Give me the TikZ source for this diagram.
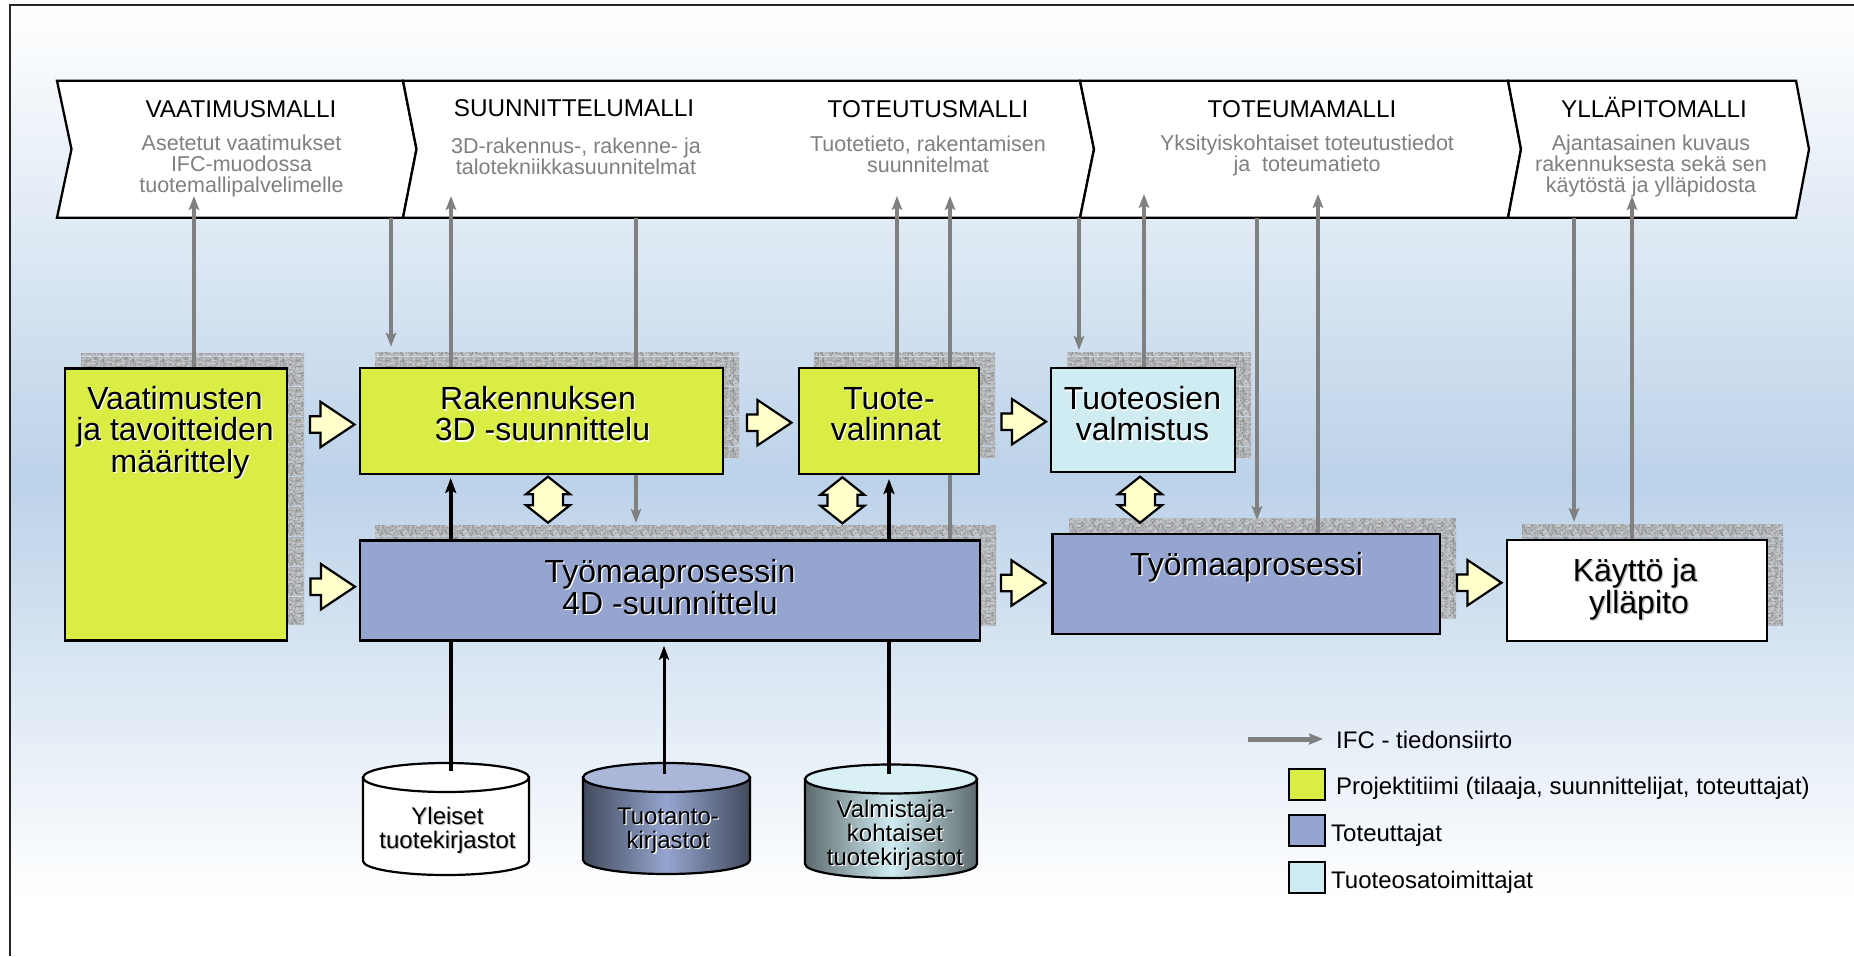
\documentclass[tikz,border=0pt]{standalone}
\usepackage{fontspec}
\setmainfont{Liberation Sans}
\usetikzlibrary{arrows.meta,backgrounds,patterns}
\definecolor{bgblue}{HTML}{BCD2E9}
\definecolor{cgreen}{HTML}{D9ED45}
\definecolor{cblue}{HTML}{95A5CF}
\definecolor{ccyan}{HTML}{CFECF2}
\definecolor{cyell}{HTML}{FFFFCC}
\definecolor{igray}{HTML}{808080}
\pgfmathsetseed{4711}
\pgfdeclarepatterninherentlycolored{noisetex}{\pgfpointorigin}{\pgfpoint{30pt}{30pt}}{\pgfpoint{30pt}{30pt}}{%
  \foreach \i in {0,...,19}{\foreach \j in {0,...,19}{%
    \pgfmathsetmacro{\gv}{0.54+0.27*rnd}%
    \definecolor{nc}{gray}{\gv}%
    \pgfsetfillcolor{nc}%
    \pgfpathrectangle{\pgfpoint{\i*1.5pt}{\j*1.5pt}}{\pgfpoint{1.5pt}{1.5pt}}%
    \pgfusepath{fill}}}%
}
\newcommand\ts[2][white]{\rlap{\raisebox{-1.3pt}{\kern1.3pt\textcolor{#1}{#2}}}#2}
\tikzset{
  boxn/.style={draw=black,line width=2.5pt,inner sep=0pt},
  big/.style={inner sep=0pt,align=center,font=\fontsize{32}{31}\selectfont},
  head/.style={inner sep=0pt,font=\fontsize{24.3}{24}\selectfont},
  sub/.style={inner sep=0pt,align=center,text=igray,font=\fontsize{21.5}{21}\selectfont},
  cyl/.style={inner sep=0pt,align=center,font=\fontsize{24}{24}\selectfont},
  leg/.style={inner sep=0pt,anchor=west,font=\fontsize{24}{24}\selectfont},
  swatch/.style={draw=black,line width=2.3pt,minimum width=36pt,minimum height=31pt,inner sep=0pt},
  band/.style={inner sep=0pt,minimum height=137pt},
  chev/.style={draw=black,fill=white,line width=2.3pt,line join=miter},
  ifc/.style={draw=igray,line width=3.8pt,-{Stealth[length=14pt,width=10.5pt,inset=3pt]}},
  blk/.style={draw=black,line width=4.2pt,-{Stealth[length=15pt,width=11pt,inset=3pt]}},
  blkthin/.style={draw=black,line width=3pt,-{Stealth[length=14pt,width=10pt,inset=3pt]}},
  noise/.style={pattern=noisetex},
  cylb/.style={draw=black,line width=2.2pt},
  blockfill/.style={draw=black,fill=cyell,line width=2.2pt,line join=miter},
  rarrow/.pic={\draw[blockfill] (0,-8.3) -- (10.5,-8.3) -- (10.5,-22.7) -- (44.5,0) -- (10.5,22.7) -- (10.5,8.3) -- (0,8.3) -- cycle;},
  darrow/.pic={\draw[blockfill] (0,-23) -- (22,-5.5) -- (15,-5.5) -- (15,5.5) -- (22,5.5) -- (0,23) -- (-22,5.5) -- (-15,5.5) -- (-15,-5.5) -- (-22,-5.5) -- cycle;}
}
\begin{document}
\begin{tikzpicture}[x=1pt,y=-1pt]
\useasboundingbox (0,0) rectangle (1854,956);
% model bands (named extents)
\node[band,minimum width=346pt] (m1) at (230,149.2) {};
\node[band,minimum width=677pt] (m2) at (741.5,149.2) {};
\node[band,minimum width=428pt] (m4) at (1294,149.2) {};
\node[band,minimum width=288pt] (m5) at (1652,149.2) {};
% boxes
\node[boxn,fill=cgreen,minimum width=222pt,minimum height=272pt] (b1) at (176,504.7) {};
\node[boxn,fill=cgreen,minimum width=363pt,minimum height=106pt] (b2) at (541.5,421) {};
\node[boxn,fill=cgreen,minimum width=180pt,minimum height=106pt] (b3) at (889,421) {};
\node[boxn,fill=ccyan,minimum width=184pt,minimum height=104pt] (b4) at (1143,420) {};
\node[boxn,fill=cblue,minimum width=620pt,minimum height=100pt] (b5) at (670,590.7) {};
\node[boxn,fill=cblue,minimum width=387.5pt,minimum height=100pt] (b6) at (1246.3,584) {};
\node[boxn,fill=white,minimum width=260pt,minimum height=101pt] (b7) at (1637,590.5) {};
% box labels
\node[big] (t1) at (175,433.5) {\ts{Vaatimusten}\\\ts{ja tavoitteiden}\\\hspace*{10pt}\ts{määrittely}};
\node[big] (t2) at (538,414.5) {\ts{Rakennuksen}\\\hspace*{9pt}\ts{3D -suunnittelu}};
\node[big] (t3) at (886,414.5) {\hspace*{6pt}\ts{Tuote-}\\\ts{valinnat}};
\node[big] (t4) at (1142.5,414.5) {\ts{Tuoteosien}\\\ts{valmistus}};
\node[big] (t5) at (670,587.5) {\ts{Työmaaprosessin}\\\ts{4D -suunnittelu}};
\node[big] (t6) at (1246.6,568) {\ts{Työmaaprosessi}};
\node[big] (t7) at (1635,589.5) {\ts[gray!50]{Käyttö ja}\\\hspace*{8pt}\ts[gray!50]{ylläpito}};
% model labels
\node[head] (h1) at (241,108.7) {VAATIMUSMALLI};
\node[head] (h2) at (574,107.7) {SUUNNITTELUMALLI};
\node[head] (h3) at (928,108.7) {TOTEUTUSMALLI};
\node[head] (h4) at (1302,108.7) {TOTEUMAMALLI};
\node[head] (h5) at (1654,107.7) {YLLÄPITOMALLI};
\node[sub] (s1) at (241.5,165.5) {Asetetut vaatimukset\\IFC-muodossa\\tuotemallipalvelimelle};
\node[sub] (s2) at (576,156.5) {3D-rakennus-, rakenne- ja\\talotekniikkasuunnitelmat};
\node[sub] (s3) at (928,154.2) {Tuotetieto, rakentamisen\\suunnitelmat};
\node[sub] (s4) at (1307,155.7) {Yksityiskohtaiset toteutustiedot\\ja\ \ toteumatieto};
\node[sub] (s5) at (1651,166) {Ajantasainen kuvaus\\rakennuksesta sekä sen\\käytöstä ja ylläpidosta};
% cylinder labels and extents
\node[cyl] (y1) at (447.5,831) {\ts[gray!45]{Yleiset}\\\ts[gray!45]{tuotekirjastot}};
\node[cyl] (y2) at (668,831) {\ts{Tuotanto-}\\\ts{kirjastot}};
\node[cyl] (y3) at (895,836) {\ts{Valmistaja-}\\\ts{kohtaiset}\\\ts{tuotekirjastot}};
\coordinate (c1) at (450.7,770.7);
\coordinate (c2) at (664,774);
\coordinate (c3) at (889,774);
% block arrows
\pic at (310,424.5) {rarrow};
\pic at (310.5,586.7) {rarrow};
\pic at (747,422.7) {rarrow};
\pic at (1001.5,421.7) {rarrow};
\pic at (1001,583) {rarrow};
\pic at (1457,582.7) {rarrow};
\pic at (548,499.7) {darrow};
\pic at (842.4,500.3) {darrow};
\pic at (1140,499.7) {darrow};
% legend
\coordinate (la) at (1247.7,739);
\coordinate (lb) at (1323,739);
\node[leg] (l0) at (1336,740) {IFC - tiedonsiirto};
\node[swatch,fill=cgreen] (q1) at (1307,784.5) {};
\node[swatch,fill=cblue] (q2) at (1307,830.5) {};
\node[swatch,fill=ccyan] (q3) at (1307,877.2) {};
\node[leg] (l1) at (1336,788) {Projektitiimi (tilaaja, suunnittelijat, toteuttajat)};
\node[leg] (l2) at (1331,835) {Toteuttajat};
\node[leg] (l3) at (1331,882) {Tuoteosatoimittajat};
% arrow ends
\coordinate (u1) at (194,196);
\coordinate (d1) at (391,346.7);
\coordinate (u2) at (451,196);
\coordinate (d2) at (636,523);
\coordinate (u3) at (897,196);
\coordinate (u4) at (950,196);
\coordinate (d3) at (1079,350);
\coordinate (u5) at (1144,194);
\coordinate (d4) at (1257,520);
\coordinate (u6) at (1318,194);
\coordinate (d5) at (1574,522);
\coordinate (u7) at (1632,196);
\coordinate (k1) at (450.7,478);
\coordinate (k2) at (664,645.7);
\coordinate (k3) at (889,479);
\begin{scope}[on background layer]
  \fill[top color=white,bottom color=bgblue] (10,5) rectangle (1854,480);
  \fill[top color=bgblue,bottom color=white] (10,480) rectangle (1854,900);
  \draw[black!85,line width=2.6pt] (10,956) -- (10,5) -- (1854,5);
  % textured shadows
  \fill[noise] (81,353) rectangle (304,624);
  \fill[noise] (375,352) rectangle (739,457);
  \fill[noise] (814,352) rectangle (995,457);
  \fill[noise] (1067,352) rectangle (1251,457);
  \fill[noise] (375,525) rectangle (996,625);
  \fill[noise] (1069,518) rectangle (1456,618);
  \fill[noise] (1522,524) rectangle (1783,625.7);
  % model chevrons
  \draw[chev] (57,80.7) -- (403,80.7) -- (416.5,149.2) -- (403,217.7) -- (57,217.7) -- (71.5,149.2) -- cycle;
  \draw[chev] (403,80.7) -- (1080,80.7) -- (1094,149.2) -- (1080,217.7) -- (403,217.7) -- (416.5,149.2) -- cycle;
  \draw[chev] (1080,80.7) -- (1508,80.7) -- (1521,149.2) -- (1508,217.7) -- (1080,217.7) -- (1094,149.2) -- cycle;
  \draw[chev] (1508,80.7) -- (1796,80.7) -- (1809,149.2) -- (1796,217.7) -- (1508,217.7) -- (1521,149.2) -- cycle;
  % cylinders
  \draw[cylb,fill=white] (363,777.5) -- (363,861) arc[start angle=180,end angle=0,x radius=83,y radius=14] -- (529,777.5) -- cycle;
  \draw[cylb,fill=white] (446,777.5) ellipse[x radius=83,y radius=14.5];
  \draw[cylb,left color=black!55!cblue,right color=black!55!cblue,middle color=cblue] (583,777.5) -- (583,860) arc[start angle=180,end angle=0,x radius=83.5,y radius=14] -- (750,777.5) -- cycle;
  \draw[cylb,fill=cblue!80!white] (666.5,777.5) ellipse[x radius=83.5,y radius=14.5];
  \draw[cylb,left color=black!55!ccyan,right color=black!55!ccyan,middle color=ccyan] (805,779) -- (805,864) arc[start angle=180,end angle=0,x radius=86,y radius=14] -- (977,779) -- cycle;
  \draw[cylb,fill=ccyan!80!white] (891,779) ellipse[x radius=86,y radius=14.5];
  % IFC connectors
  \draw[ifc] (u1 |- b1.north) -- (u1);
  \draw[ifc] (d1 |- m2.south) -- (d1);
  \draw[ifc] (u2 |- b2.north) -- (u2);
  \draw[ifc] (d2 |- m2.south) -- (d2);
  \draw[ifc] (u3 |- b3.north) -- (u3);
  \draw[ifc] (u4 |- b5.north) -- (u4);
  \draw[ifc] (d3 |- m4.south) -- (d3);
  \draw[ifc] (u5 |- b4.north) -- (u5);
  \draw[ifc] (d4 |- m4.south) -- (d4);
  \draw[ifc] (u6 |- b6.north) -- (u6);
  \draw[ifc] (d5 |- m5.south) -- (d5);
  \draw[ifc] (u7 |- b7.north) -- (u7);
  % library connectors
  \draw[blk] (c1) -- (k1);
  \draw[blkthin] (c2) -- (k2);
  \draw[blk] (c3) -- (k3);
  \draw[igray,line width=5pt,-{Stealth[length=14pt,width=11pt,inset=2pt]}] (la) -- (lb);
\end{scope}
\end{tikzpicture}
\end{document}
